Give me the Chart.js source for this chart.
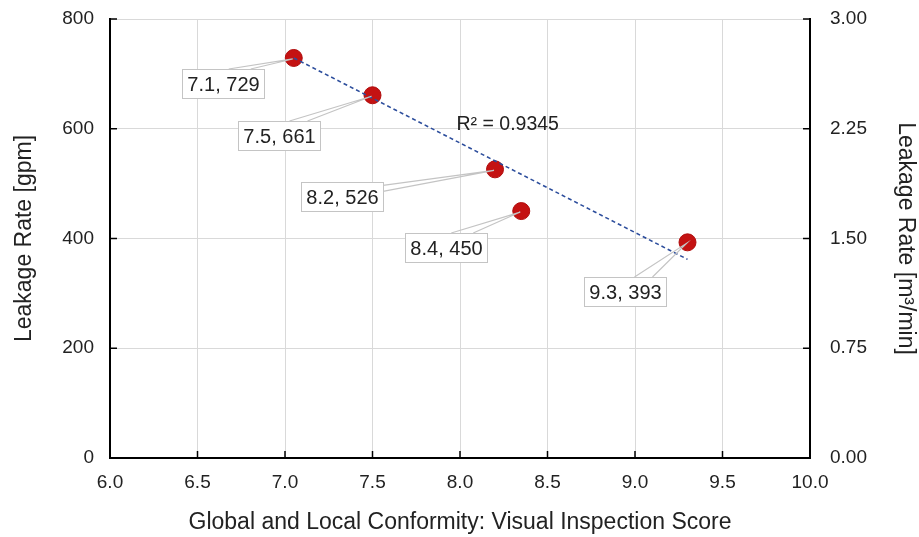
<!DOCTYPE html>
<html><head><meta charset="utf-8">
<script src="https://cdn.jsdelivr.net/npm/chart.js@4"></script>
<style>html,body{margin:0;padding:0;background:#fff}#wrap{width:919px;height:537px;position:relative}</style>
</head><body><div id="wrap"><canvas id="c"></canvas></div>
<script>
// ---- data ----
const scoreX = [7.05, 7.5, 8.2, 8.35, 9.3];
const leakGpm = [729, 661, 526, 450, 393];
const pointLabels = ["7.1, 729", "7.5, 661", "8.2, 526", "8.4, 450", "9.3, 393"];
const trendX = [7.05, 9.3];
const trendY = [729, 362];
const rSquaredText = "R\u00B2 = 0.9345";
const xTitle = "Global and Local Conformity: Visual Inspection Score";
const yTitle = "Leakage Rate [gpm]";
const y2Title = "Leakage Rate [m\u00B3/min]";

const FONT = '"Liberation Sans", Arial, Helvetica, sans-serif';
const TXT = '#222';

const calloutLayout = [
  {dx: -71, dy: 25.5, side: 'top', a: 6, b: 28},
  {dx: -93.5, dy: 40.5, side: 'top', a: 10.5, b: 28.5},
  {dx: -152.5, dy: 27, side: 'right', a: -11, b: -5},
  {dx: -75.5, dy: 36.5, side: 'top', a: 5.5, b: 27.5},
  {dx: -62.5, dy: 49.5, side: 'top', a: 9.5, b: 27.5}
];

const inwardTicks = {
  id: 'inwardTicks',
  afterDraw(chart) {
    const ctx = chart.ctx, a = chart.chartArea;
    ctx.save();
    ctx.strokeStyle = '#000'; ctx.lineWidth = 1.5;
    const L = 7;
    chart.scales.x.ticks.forEach(t => {
      const p = chart.scales.x.getPixelForValue(t.value);
      ctx.beginPath(); ctx.moveTo(p, a.bottom); ctx.lineTo(p, a.bottom - L); ctx.stroke();
    });
    chart.scales.y.ticks.forEach(t => {
      const p = chart.scales.y.getPixelForValue(t.value);
      ctx.beginPath(); ctx.moveTo(a.left, p); ctx.lineTo(a.left + L, p); ctx.stroke();
    });
    chart.scales.y2.ticks.forEach(t => {
      const p = chart.scales.y2.getPixelForValue(t.value);
      ctx.beginPath(); ctx.moveTo(a.right, p); ctx.lineTo(a.right - L, p); ctx.stroke();
    });
    ctx.restore();
  }
};

const callouts = {
  id: 'callouts',
  afterDatasetsDraw(chart) {
    const ctx = chart.ctx;
    const meta = chart.getDatasetMeta(1);
    ctx.save();
    ctx.font = '20px ' + FONT;
    meta.data.forEach((el, i) => {
      const Lo = calloutLayout[i];
      const px = el.x, py = el.y;
      const text = pointLabels[i];
      const w = Math.round(ctx.measureText(text).width + 10), h = 29;
      const cx = px + Lo.dx, cy = py + Lo.dy;
      const bx = Math.round(cx - w / 2), by = Math.round(cy - h / 2);
      let b1, b2;
      if (Lo.side === 'top') { b1 = [cx + Lo.a, by]; b2 = [cx + Lo.b, by]; }
      else { b1 = [bx + w, cy + Lo.a]; b2 = [bx + w, cy + Lo.b]; }
      ctx.strokeStyle = '#c4c4c4'; ctx.lineWidth = 1.2;
      ctx.beginPath(); ctx.moveTo(b1[0], b1[1]); ctx.lineTo(px - 1, py + 1); ctx.lineTo(b2[0], b2[1]); ctx.stroke();
      ctx.fillStyle = '#fff'; ctx.fillRect(bx, by, w, h);
      ctx.strokeStyle = '#c4c4c4'; ctx.lineWidth = 1;
      ctx.strokeRect(bx + 0.5, by + 0.5, w, h);
      ctx.fillStyle = TXT; ctx.textAlign = 'center'; ctx.textBaseline = 'middle';
      ctx.fillText(text, bx + w / 2 + 0.5, by + h / 2 + 1.5);
    });
    // R² text
    const xs = chart.scales.x, ys = chart.scales.y;
    ctx.font = '19.5px ' + FONT;
    ctx.textAlign = 'left'; ctx.textBaseline = 'middle';
    ctx.fillStyle = TXT;
    ctx.fillText(rSquaredText, xs.getPixelForValue(7.98), ys.getPixelForValue(608));
    ctx.restore();
  }
};

const HIDDEN = 'rgba(0,0,0,0)';

new Chart(document.getElementById('c'), {
  type: 'scatter',
  data: {
    datasets: [
      {
        type: 'line',
        data: trendX.map((x, i) => ({x, y: trendY[i]})),
        borderColor: '#2c4d9c', borderWidth: 1.6, borderDash: [4, 3],
        pointRadius: 0, fill: false, order: 0, yAxisID: 'y'
      },
      {
        data: scoreX.map((x, i) => ({x, y: leakGpm[i]})),
        backgroundColor: '#c41212', borderColor: '#b00d0d', borderWidth: 1,
        pointRadius: 8.5, pointHoverRadius: 8.5, order: 1, yAxisID: 'y'
      }
    ]
  },
  options: {
    responsive: true, maintainAspectRatio: false, animation: false,
    layout: {padding: {top: 19, left: 0, right: 0, bottom: 0}},
    plugins: {legend: {display: false}, tooltip: {enabled: false}},
    scales: {
      x: {
        type: 'linear', min: 6, max: 10,
        ticks: {stepSize: 0.5, callback: v => v.toFixed(1), color: TXT, font: {family: FONT, size: 19}, padding: 3, maxRotation: 0},
        grid: {color: '#d9d9d9', lineWidth: 1, drawTicks: true, tickLength: 10, tickColor: HIDDEN},
        border: {color: '#000', width: 2},
        title: {display: true, text: xTitle, color: TXT, font: {family: FONT, size: 23}, padding: {top: 0, bottom: 1}},
        afterFit: s => { s.height = 79; }
      },
      y: {
        type: 'linear', position: 'left', min: 0, max: 800,
        ticks: {stepSize: 200, color: TXT, font: {family: FONT, size: 19}, padding: 3},
        grid: {color: '#d9d9d9', lineWidth: 1, drawTicks: true, tickLength: 13, tickColor: HIDDEN},
        border: {color: '#000', width: 2},
        title: {display: true, text: yTitle, color: TXT, font: {family: FONT, size: 23}, padding: {top: 11, bottom: 0}},
        afterFit: s => { s.width = 110; }
      },
      y2: {
        type: 'linear', position: 'right', min: 0, max: 3,
        ticks: {stepSize: 0.75, callback: v => v.toFixed(2), color: TXT, font: {family: FONT, size: 19}, padding: 3},
        grid: {drawOnChartArea: false, drawTicks: true, tickLength: 17, tickColor: HIDDEN},
        border: {color: '#000', width: 2},
        title: {display: true, text: y2Title, color: TXT, font: {family: FONT, size: 23}, padding: {top: 0, bottom: 0}},
        afterFit: s => { s.width = 109; }
      }
    }
  },
  plugins: [callouts, inwardTicks]
});
</script>
</body></html>
